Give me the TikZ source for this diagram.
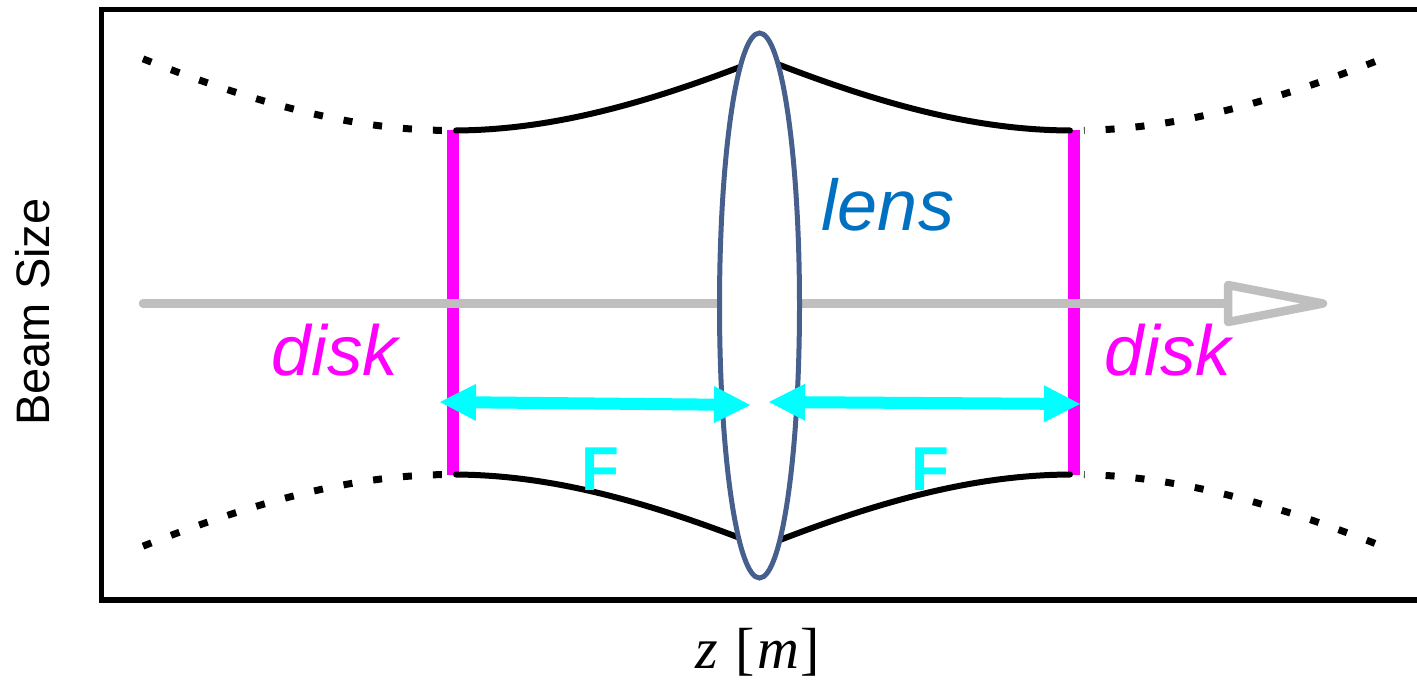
\documentclass[tikz,border=0pt]{standalone}
\usepackage{fontspec}
\setmainfont{Liberation Sans}
\newfontfamily\zserif{Liberation Serif}
\usetikzlibrary{arrows.meta,shapes.geometric}

\definecolor{lensblue}{RGB}{70,95,140}
\definecolor{textblue}{RGB}{0,112,192}
\definecolor{axisgray}{RGB}{191,191,191}
\definecolor{diskmag}{RGB}{255,0,255}
\definecolor{dimcyan}{RGB}{0,255,255}

\begin{document}
\begin{tikzpicture}[x=1pt,y=-1pt,
  declare function={env(\d)=100*sqrt(2.9584+0.312*(\d/100)^2);},
  frame/.style={line width=5.5pt, line join=miter},
  beam/.style={line width=6pt, line cap=round},
  dotbeam/.style={line width=7pt, dash pattern=on 9pt off 21pt},
  axis/.style={draw=axisgray, line width=8.5pt, line join=round, line cap=round},
  disk/.style={draw=diskmag, line width=12pt},
  dim/.style={draw=dimcyan, line width=12pt,
    {Triangle[length=36pt,width=37pt,line width=0pt]}-{Triangle[length=36pt,width=37pt,line width=0pt]}},
  lenslab/.style={font=\fontsize{72}{80}\selectfont\itshape, text=textblue, anchor=base, inner sep=0pt},
  disklab/.style={font=\fontsize{71}{80}\selectfont\itshape, text=diskmag, anchor=base, inner sep=0pt},
  flab/.style={font=\fontsize{62}{70}\selectfont\bfseries, text=dimcyan, anchor=base, inner sep=0pt},
  axlab/.style={font=\fontsize{47}{56}\selectfont, anchor=base, inner sep=0pt}
]
\useasboundingbox (0,0) rectangle (1417,681);

% frame
\draw[frame] (1417,9.5) -- (101.5,9.5) -- (101.5,600) -- (1417,600);

% beam axis with open arrow head
\coordinate (axstart) at (143,303.5);
\coordinate (axend) at (1228,303.5);
\coordinate (ahtop) at (1228,285);
\coordinate (ahtip) at (1323,303.5);
\coordinate (ahbot) at (1228,322);
\draw[axis] (axstart) -- (axend);
\draw[axis] (ahtop) -- (ahtip) -- (ahbot) -- cycle;

% magenta disks (under the axis)
\coordinate (d1t) at (453,130);
\coordinate (d1b) at (453,475);
\coordinate (d2t) at (1073.5,130);
\coordinate (d2b) at (1073.5,475);
\draw[disk] (d1t) -- (d1b);
\draw[disk] (d2t) -- (d2b);
\draw[axis] (400,303.5) -- (500,303.5);
\draw[axis] (1020,303.5) -- (1120,303.5);

% beam envelopes, solid between disks
\draw[beam] plot[domain=456:760,samples=60] (\x,{302.5-env(\x-452)});
\draw[beam] plot[domain=456:760,samples=60] (\x,{302.5+env(\x-452)});
\draw[beam] plot[domain=760:1070,samples=60] (\x,{302.5-env(\x-1073)});
\draw[beam] plot[domain=760:1070,samples=60] (\x,{302.5+env(\x-1073)});

% dotted continuations
\draw[dotbeam] plot[domain=143:442,samples=60] (\x,{302.5-env(\x-452)});
\draw[dotbeam] plot[domain=143:442,samples=60] (\x,{302.5+env(\x-452)});
\draw[dotbeam] plot[domain=1375:1084,samples=60] (\x,{302.5-env(\x-1073)});
\draw[dotbeam] plot[domain=1375:1084,samples=60] (\x,{302.5+env(\x-1073)});

% lens
\node[ellipse, draw=lensblue, line width=5pt, fill=white, minimum width=80pt,
  minimum height=545pt, inner sep=0pt] (lens) at (759.5,305.5) {};

% focal distance arrows
\coordinate (f1a) at (440,402);
\coordinate (f1b) at (750,405);
\coordinate (f2a) at (769,402);
\coordinate (f2b) at (1080,404);
\draw[dim] (f1a) -- (f1b);
\draw[dim] (f2a) -- (f2b);

% labels
\node[lenslab] (lenstext) at (888,230) {lens};
\node[disklab] (disk1) at (335,375) {disk};
\node[disklab] (disk2) at (1168,375) {disk};
\node[flab] (F1) at (600,490) {F};
\node[flab] (F2) at (930,490) {F};
\node[axlab, rotate=90] (ylab) at (49,312) {Beam Size};
\node[anchor=base, inner sep=0pt, font=\zserif\fontsize{58}{64}\selectfont] (xlab) at (758,668)
  {\textit{z}\hspace{0.3em}[\hspace{0.05em}\textit{m}\hspace{0.02em}]};
\end{tikzpicture}
\end{document}
